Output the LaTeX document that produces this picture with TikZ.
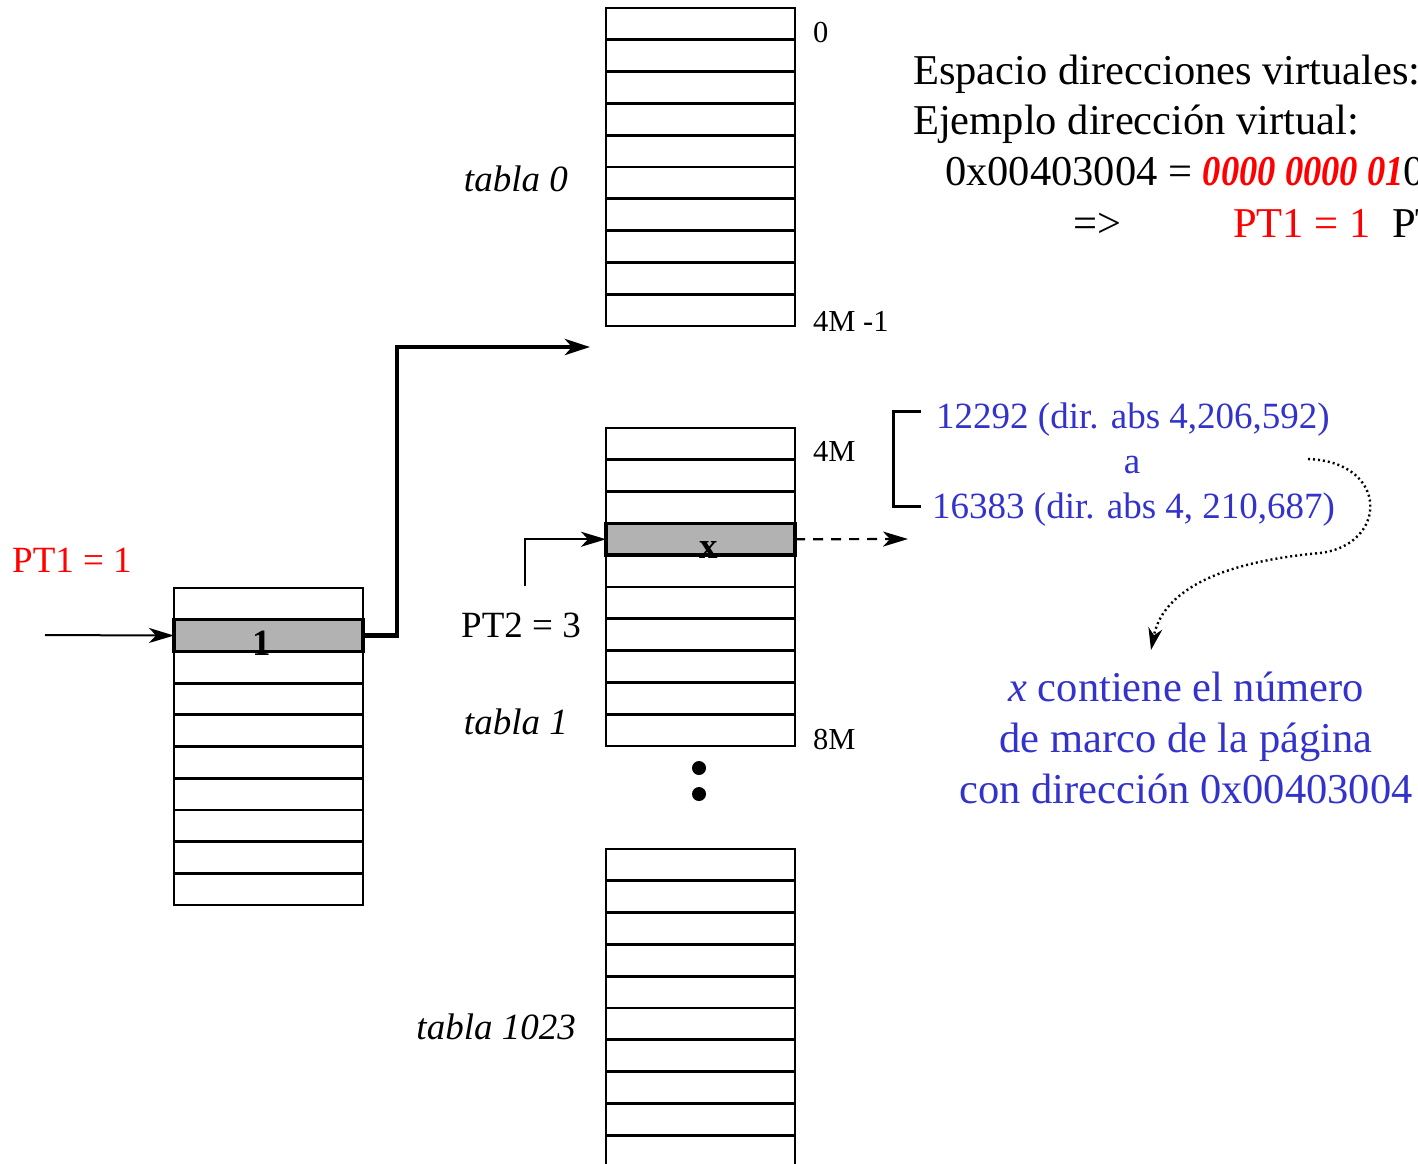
\documentclass[tikz,border=0pt]{standalone}
\usepackage{fontspec}
\setmainfont{Liberation Serif}
\usetikzlibrary{arrows.meta}
\definecolor{myblue}{RGB}{51,51,204}
\definecolor{cellgray}{RGB}{178,178,178}
\begin{document}
\begin{tikzpicture}[x=1pt,y=-1pt,
  tbl/.style={draw, line width=2.8pt, minimum width=189pt, minimum height=318pt, inner sep=0pt, outer sep=0pt, anchor=north west},
  rowline/.style={line width=2.8pt},
  cell/.style={draw, fill=cellgray, line width=3.5pt, minimum width=189pt, minimum height=31.7pt, inner sep=0pt, outer sep=0pt, anchor=north west},
  celltext/.style={font=\fontsize{37}{40}\selectfont\bfseries, inner sep=0pt, anchor=base},
  lbl/.style={font=\fontsize{30.5}{34}\selectfont, inner sep=0pt, anchor=base west},
  tlbl/.style={font=\fontsize{37}{40}\selectfont\itshape, inner sep=0pt, anchor=base east},
  midlbl/.style={font=\fontsize{37}{40}\selectfont, inner sep=0pt, anchor=base west},
  bigtxt/.style={font=\fontsize{42.5}{50}\selectfont, inner sep=0pt, anchor=base west},
  bluesmall/.style={font=\fontsize{37}{44}\selectfont, text=myblue, inner sep=0pt, anchor=base west},
  bluebig/.style={font=\fontsize{42.5}{50}\selectfont, text=myblue, inner sep=0pt, anchor=base},
  thinarrow/.style={line width=2pt, -{Stealth[length=25pt, width=15pt, inset=7pt]}},
  bigconn/.style={line width=4.5pt, line join=miter, -{Stealth[length=25pt, width=16pt, inset=7pt]}},
  dasharrow/.style={line width=2.2pt, dash pattern=on 10pt off 8pt, -{Stealth[length=25pt, width=15pt, inset=7pt]}},
  dotarrow/.style={line width=2.4pt, dash pattern=on 2pt off 3pt, -{Stealth[length=22pt, width=14pt, inset=7pt]}},
  dotnode/.style={circle, fill=black, minimum size=14pt, inner sep=0pt}
]
\clip (0,0) rectangle (1418,1163);

% ---- table 0 ----
\node[tbl] (t0) at (606,8) {};
\foreach \i in {1,...,9} \draw[rowline] (t0.north west) ++(0,31.8*\i) -- ++(189,0);

% ---- table 1 ----
\node[tbl] (t1) at (606,428) {};
\foreach \i in {1,...,9} \draw[rowline] (t1.north west) ++(0,31.8*\i) -- ++(189,0);
\node[cell] (gx) at (606,523.4) {};
\node[celltext] (vx) at (709,558) {x};
\draw[line width=3.5pt] (gx.south west) -- (gx.south east);

% ---- table 1023 ----
\node[tbl] (t2) at (606,849) {};
\foreach \i in {1,...,9} \draw[rowline] (t2.north west) ++(0,31.8*\i) -- ++(189,0);

% ---- left table ----
\node[tbl, minimum height=317pt] (tL) at (174,588) {};
\foreach \i in {1,...,9} \draw[rowline] (tL.north west) ++(0,31.7*\i) -- ++(189,0);
\node[cell] (g1) at (174,619.7) {};
\node[celltext] (v1) at (262,655) {1};
\draw[line width=3.5pt] (g1.south west) -- (g1.south east);

% ---- dots ----
\node[dotnode] (d1) at (699,768) {};
\node[dotnode] (d2) at (699,794) {};

% ---- labels ----
\node[lbl] (l0) at (813,42) {0};
\node[lbl] (l4m1) at (813,331) {4M -1};
\node[lbl] (l4m) at (813,461) {4M};
\node[lbl] (l8m) at (813,749) {8M};
\node[tlbl] (tab0) at (568,191) {tabla 0};
\node[tlbl] (tab1) at (568,734) {tabla 1};
\node[tlbl] (tab1023) at (576,1039) {tabla 1023};
\node[midlbl, text=red] (pt1) at (12,572) {PT1 = 1};
\node[midlbl] (pt2) at (461,637) {PT2 = 3};

% ---- header text ----
\node[bigtxt] (h1) at (913,84) {Espacio direcciones virtuales:};
\node[bigtxt] (h2) at (913,134) {Ejemplo dirección virtual:};
\node[bigtxt] (h3) at (945,185) {0x00403004 = \textcolor{red}{\scalebox{0.86}[1]{\bfseries\itshape 0000 0000 01}}0};
\node[bigtxt] (h4a) at (1073,237) {=>};
\node[bigtxt, text=red] (h4b) at (1233,237) {PT1 = 1};
\node[bigtxt] (h4c) at (1392,237) {PT};

% ---- blue text ----
\node[bluesmall] (r1) at (936,428) {12292 (dir. abs 4,206,592)};
\node[bluesmall, anchor=base] (ra) at (1132,473) {a};
\node[bluesmall] (r2) at (932,518) {16383 (dir. abs 4, 210,687)};
\node[bluebig] (b1) at (1186,701) {\textit{x} contiene el número};
\node[bluebig] (b2) at (1186,752) {de marco de la página};
\node[bluebig] (b3) at (1186,803) {con dirección 0x00403004};

% ---- connectors ----
\coordinate (inL) at (45,635);
\draw[thinarrow] (inL) -- (g1.west);
\coordinate (t0in) at (590,347);
\draw[bigconn] (g1.east) -- ++(34,0) |- (t0in);
\coordinate (pt2s) at (525,586);
\draw[thinarrow] (pt2s) |- (gx.west);
\coordinate (dashend) at (908,539);
\draw[dasharrow] (gx.east) -- (dashend);
\draw[line width=3pt] (921,411) -- (893,411) -- (893,506) -- (921,506);
\coordinate (cs) at (1308,459);
\coordinate (ce) at (1151,650);
\draw[dotarrow] (cs) .. controls (1390,462) and (1388,545) .. (1320,553) .. controls (1210,563) and (1162,595) .. (ce);
\end{tikzpicture}
\end{document}
